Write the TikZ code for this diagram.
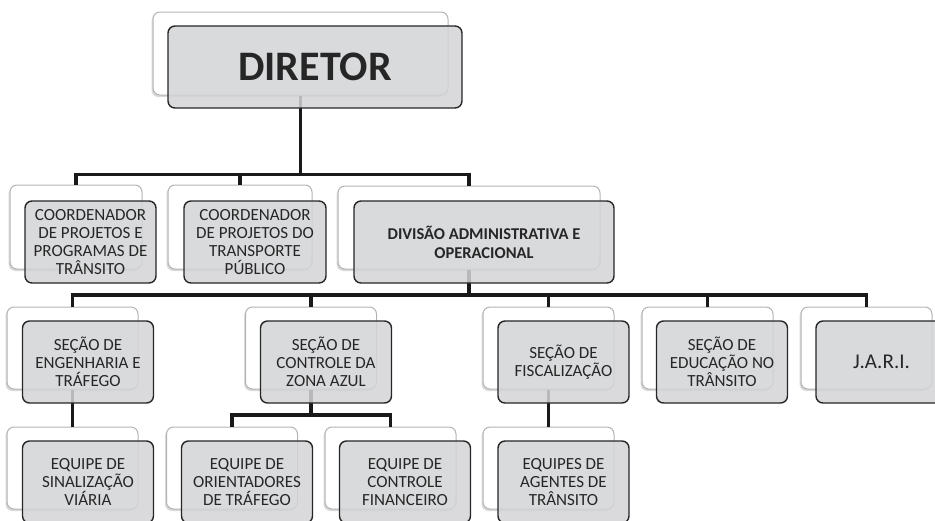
\documentclass[tikz,border=0pt]{standalone}
\usepackage{fontspec}
\setmainfont{Carlito}
\usetikzlibrary{shadows}
\definecolor{boxgray}{HTML}{D3D4D6}
\definecolor{edgegray}{HTML}{B4B4B4}
\definecolor{textgray}{HTML}{262626}
\tikzset{
  back/.style={rectangle, rounded corners=7pt, draw=edgegray, line width=1pt, fill=white,
    inner sep=0pt, minimum width=131pt, minimum height=82pt,
    drop shadow={shadow xshift=-1.5pt, shadow yshift=-2pt, opacity=0.25, fill=black!60}},
  front/.style={rectangle, rounded corners=7pt, draw=black!85, line width=1.4pt, fill=boxgray,
    fill opacity=0.85, text opacity=1, text=textgray, inner sep=0pt,
    minimum width=131pt, minimum height=82pt, align=center, font=\fontsize{17}{18}\selectfont},
  link/.style={line width=3.8pt, draw=black!90}
}
\begin{document}
\begin{tikzpicture}[x=1pt, y=-1pt]
    \clip (0,0) rectangle (935,520);
    % back boxes
    \node [back, minimum width=295pt, minimum height=83pt] (dirB) at (300.5,53.5) {};
    \node [back, minimum width=132pt, minimum height=84pt] (coordAB) at (76,227) {};
    \node [back, minimum width=144pt, minimum height=84pt] (coordBB) at (240,227) {};
    \node [back, minimum width=262pt, minimum height=83pt] (divB) at (469,227.5) {};
    \node [back] (engB) at (72.5,348) {};
    \node [back] (zonaB) at (311,348) {};
    \node [back] (fiscB) at (548.5,348) {};
    \node [back] (educB) at (707.5,348) {};
    \node [back] (jariB) at (866.5,348) {};
    \node [back] (sinalB) at (72.5,468) {};
    \node [back] (orientB) at (232,468) {};
    \node [back] (finB) at (390.5,468) {};
    \node [back] (agentB) at (548.5,468) {};
    % connectors
    \foreach \c in {coordAB,coordBB,divB}
      \draw [link] (dirB.south) -- ++(0,79) -| (\c.north);
    \foreach \c in {engB,zonaB,fiscB,educB,jariB}
      \draw [link] (divB.south) -- ++(0,25.5) -| (\c.north);
    \foreach \c in {orientB,finB}
      \draw [link] (zonaB.south) -- ++(0,25.5) -| (\c.north);
    \draw [link] (engB.south) -- (sinalB.north);
    \draw [link] (fiscB.south) -- (agentB.north);
    % front boxes
    \node [front, minimum width=294pt, font=\fontsize{42}{50}\selectfont\bfseries] (dir) at (315,67) {DIRETOR};
    \node [front] (coordA) at (90.5,242) {COORDENADOR\\DE PROJETOS E\\PROGRAMAS DE\\TRÂNSITO};
    \node [front, minimum width=142pt] (coordB) at (255,242) {COORDENADOR\\DE PROJETOS DO\\TRANSPORTE\\PÚBLICO};
    \node [front, minimum width=260pt, font=\fontsize{16.5}{19}\selectfont\bfseries] (div) at (484,242) {DIVISÃO ADMINISTRATIVA E\\OPERACIONAL};
    \node [front] (eng) at (88,362) {SEÇÃO DE\\ENGENHARIA E\\TRÁFEGO};
    \node [front] (zona) at (326,362) {SEÇÃO DE\\CONTROLE DA\\ZONA AZUL};
    \node [front] (fisc) at (563.5,362) {SEÇÃO DE\\FISCALIZAÇÃO};
    \node [front] (educ) at (722,362) {SEÇÃO DE\\EDUCAÇÃO NO\\TRÂNSITO};
    \node [front, font=\fontsize{21}{24}\selectfont] (jari) at (881.5,362) {J.A.R.I.};
    \node [front] (sinal) at (88,482) {EQUIPE DE\\SINALIZAÇÃO\\VIÁRIA};
    \node [front] (orient) at (247,482) {EQUIPE DE\\ORIENTADORES\\DE TRÁFEGO};
    \node [front] (fin) at (405,482) {EQUIPE DE\\CONTROLE\\FINANCEIRO};
    \node [front] (agent) at (563.5,482) {EQUIPES DE\\AGENTES DE\\TRÂNSITO};
  \end{tikzpicture}
\end{document}
